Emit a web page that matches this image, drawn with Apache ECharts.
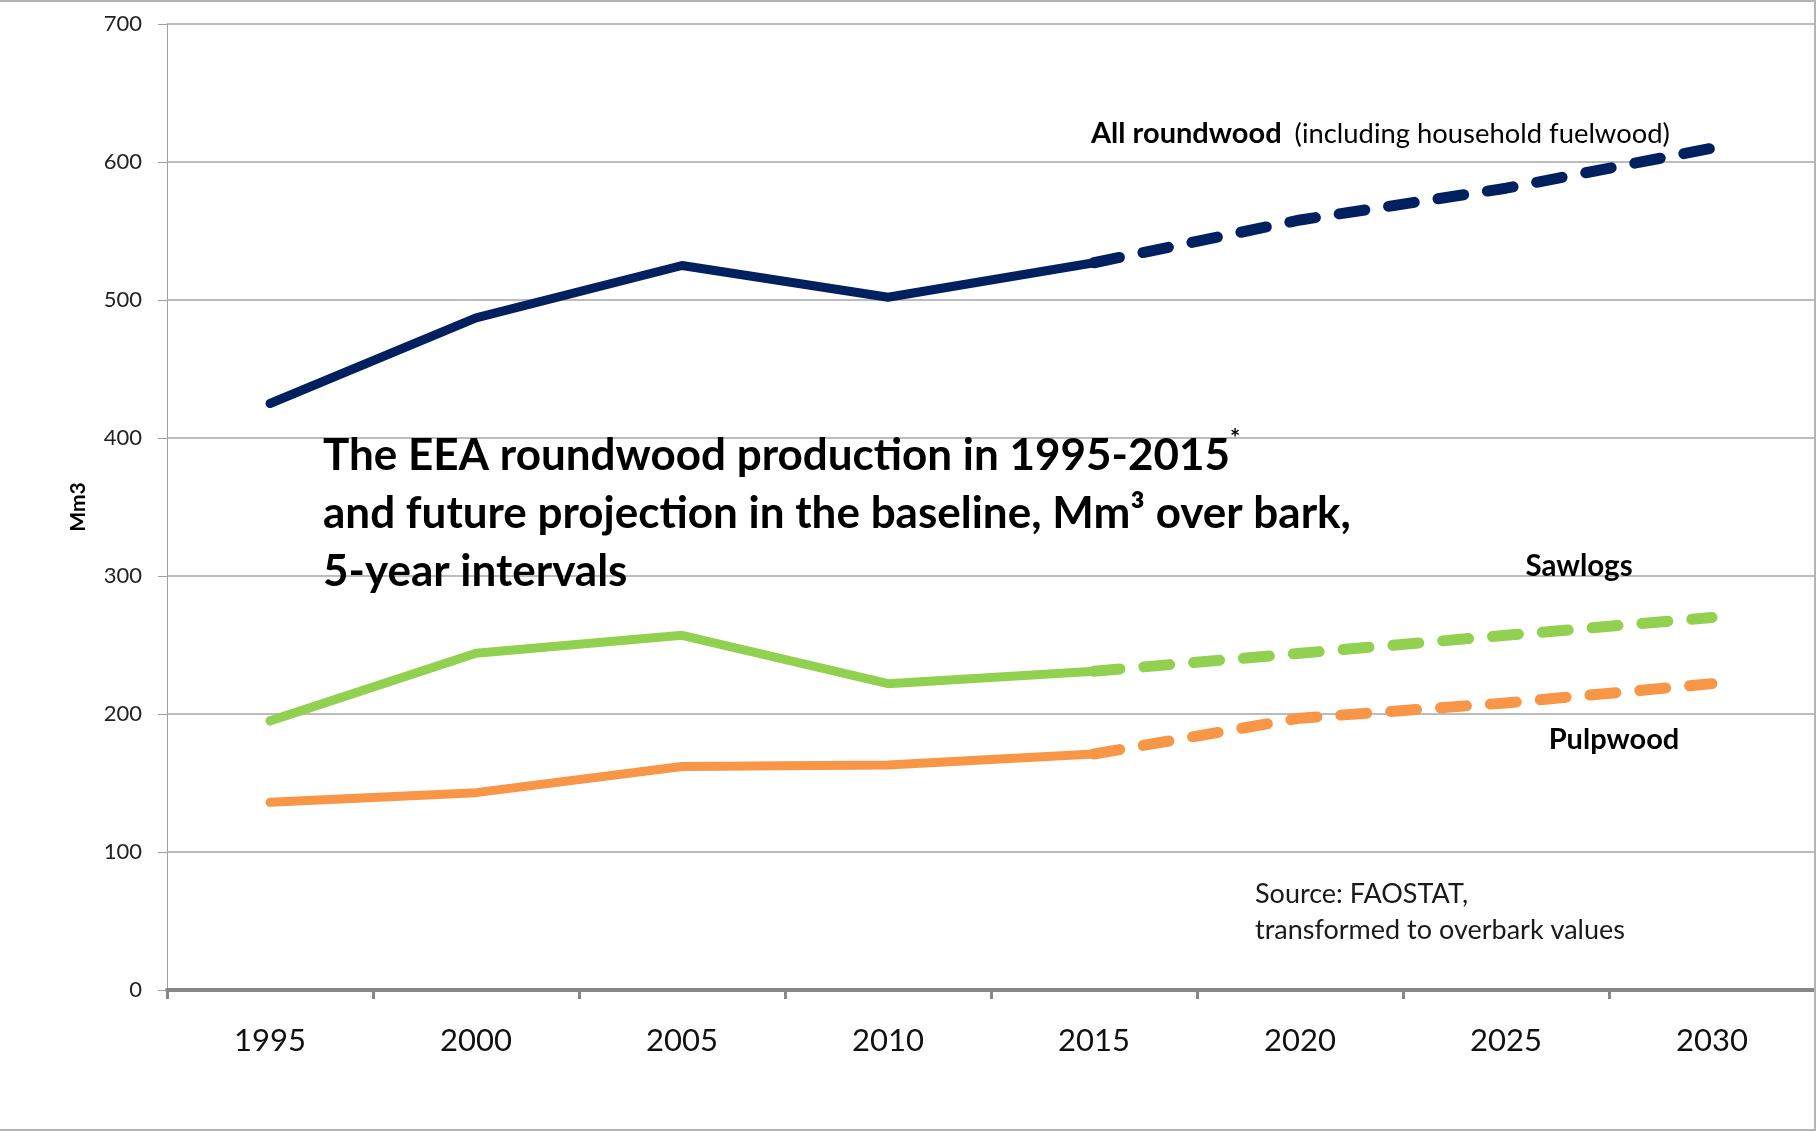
<!DOCTYPE html>
<html>
<head>
<meta charset="utf-8">
<script src="https://cdn.jsdelivr.net/npm/echarts@6/dist/echarts.min.js"></script>
<style>
html,body{margin:0;padding:0;background:#fff;}
#chart{width:1816px;height:1131px;}
</style>
</head>
<body>
<div id="chart"></div>
<script>
// ---- data ----
const years = ['1995', '2000', '2005', '2010', '2015', '2020', '2025', '2030'];
const roundwoodHist = [425, 487, 525, 502, 527, null, null, null];
const roundwoodProj = [null, null, null, null, 527, 558, 581, 610];
const sawlogsHist  = [195, 244, 257, 222, 231, null, null, null];
const sawlogsProj  = [null, null, null, null, 231, 244, 257, 270];
const pulpwoodHist = [136, 143, 162, 163, 171, null, null, null];
const pulpwoodProj = [null, null, null, null, 171, 197, 208, 222];
const yMin = 0, yMax = 700, yStep = 100;

const NAVY = '#002060', GREEN = '#92D050', ORANGE = '#F79646';
const FONT = 'Lato';
const SOLID_W = 9, DASH_W = 11, DASH = [26, 24];

function solid(name, data, color) {
  return {
    name, type: 'line', data, symbol: 'none', connectNulls: false,
    lineStyle: { color, width: SOLID_W, cap: 'round', join: 'round' },
    z: 3
  };
}
function dashed(name, data, color) {
  return {
    name, type: 'line', data, symbol: 'none', connectNulls: false,
    lineStyle: { color, width: DASH_W, type: DASH, cap: 'round', join: 'round' },
    z: 3
  };
}

const chart = echarts.init(document.getElementById('chart'), null, { renderer: 'canvas' });
chart.setOption({
  backgroundColor: '#ffffff',
  animation: false,
  textStyle: { fontFamily: FONT },
  grid: { left: 167, right: 1, top: 24, bottom: 141, containLabel: false },
  xAxis: {
    type: 'category',
    data: years,
    boundaryGap: true,
    axisLine: { show: true, lineStyle: { color: '#878787', width: 4 } },
    axisTick: { show: true, interval: 0, length: 9, lineStyle: { color: '#878787', width: 3 } },
    axisLabel: { interval: 0, margin: 35, fontSize: 31, color: '#111', fontFamily: FONT },
    splitLine: { show: false }
  },
  yAxis: {
    type: 'value',
    min: yMin, max: yMax, interval: yStep,
    name: 'Mm3',
    nameLocation: 'middle',
    nameGap: 78,
    nameRotate: 90,
    nameTextStyle: { fontSize: 21, fontWeight: 'bold', color: '#000', fontFamily: FONT },
    axisLine: { show: true, lineStyle: { color: '#a0a0a0', width: 1 } },
    axisTick: { show: true, length: 9, lineStyle: { color: '#a0a0a0', width: 1 } },
    axisLabel: { margin: 25, fontSize: 22, color: '#222', fontFamily: FONT },
    splitLine: { show: true, lineStyle: { color: '#a6a6a6', width: 1.5 } }
  },
  series: [
    solid('All roundwood', roundwoodHist, NAVY),
    dashed('All roundwood projection', roundwoodProj, NAVY),
    solid('Sawlogs', sawlogsHist, GREEN),
    dashed('Sawlogs projection', sawlogsProj, GREEN),
    solid('Pulpwood', pulpwoodHist, ORANGE),
    dashed('Pulpwood projection', pulpwoodProj, ORANGE)
  ],
  graphic: [
    {
      type: 'polyline', silent: true, z: 100,
      shape: { points: [[0, 1], [1815, 1], [1815, 1130], [0, 1130]] },
      style: { stroke: '#b4b4b4', lineWidth: 2, fill: null }
    },
    {
      type: 'text', silent: true, z: 50, x: 323, y: 427,
      style: {
        text: '{t|The EEA roundwood production in 1995-2015}{s|*}\n{t|and future projection in the baseline, Mm³ over bark,}\n{t|5-year intervals}',
        verticalAlign: 'top', align: 'left',
        rich: {
          t: { fontSize: 44, fontWeight: 'bold', fontFamily: FONT, lineHeight: 58, fill: '#000' },
          s: { fontSize: 24, fontWeight: 'bold', fontFamily: FONT, lineHeight: 34, verticalAlign: 'top', fill: '#000' }
        }
      }
    },
    {
      type: 'text', silent: true, z: 50, x: 1091, y: 134,
      style: {
        text: '{b|All roundwood}{n|(including household fuelwood)}',
        verticalAlign: 'middle', align: 'left',
        rich: {
          b: { fontSize: 29, fontWeight: 'bold', fontFamily: FONT, fill: '#000', padding: [0, 13, 0, 0] },
          n: { fontSize: 27.4, fontFamily: FONT, fill: '#000' }
        }
      }
    },
    {
      type: 'text', silent: true, z: 50, x: 1579, y: 566,
      style: { text: 'Sawlogs', fontSize: 29.5, fontWeight: 'bold', fontFamily: FONT, fill: '#000', align: 'center', verticalAlign: 'middle' }
    },
    {
      type: 'text', silent: true, z: 50, x: 1614, y: 740,
      style: { text: 'Pulpwood', fontSize: 29, fontWeight: 'bold', fontFamily: FONT, fill: '#000', align: 'center', verticalAlign: 'middle' }
    },
    {
      type: 'text', silent: true, z: 50, x: 1255, y: 876,
      style: {
        text: 'Source: FAOSTAT,\ntransformed to overbark values',
        fontSize: 27, fontFamily: FONT, fill: '#1a1a1a', lineHeight: 36,
        align: 'left', verticalAlign: 'top'
      }
    }
  ]
});
</script>
</body>
</html>
